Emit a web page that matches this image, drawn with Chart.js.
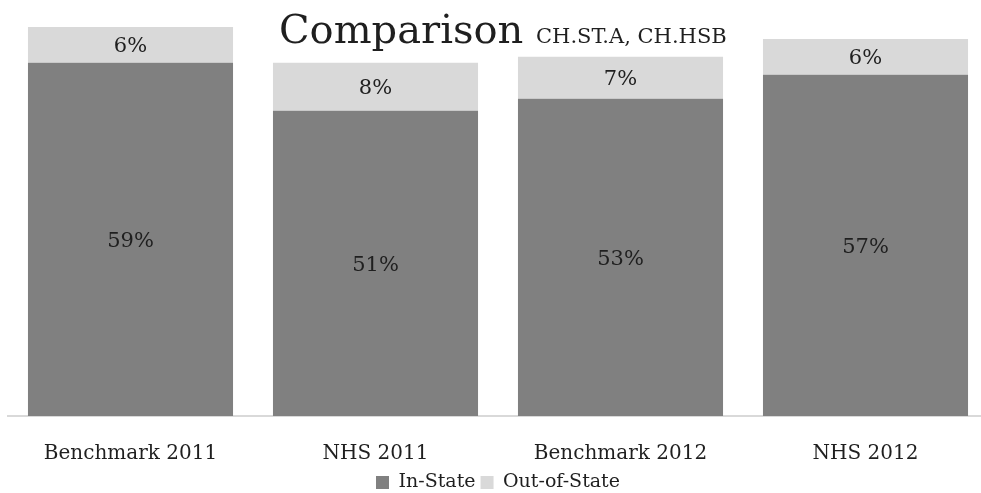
<!DOCTYPE html>
<html>
<head>
<meta charset="utf-8">
<script src="https://cdn.jsdelivr.net/npm/chart.js@4.4.1/dist/chart.umd.min.js"></script>
<style>
    html, body { margin: 0; padding: 0; background: #fff; overflow: hidden; }
    #wrap { position: relative; width: 988px; height: 502px; }
</style>
</head>
<body>
<div id="wrap"><canvas id="chart"></canvas></div>
<script>
// ── Data ──────────────────────────────────────────────────────────────────────
const categories = ['Benchmark 2011', 'NHS 2011', 'Benchmark 2012', 'NHS 2012'];
const inState = [59, 51, 53, 57];
const outOfState = [6, 8, 7, 6];
const seriesNames = ['In-State', 'Out-of-State'];

const FONT = "'DejaVu Serif', 'Liberation Serif', serif";
const TEXT = '#1f1f1f';

// title drawn over the plot, the way the original sits on top of the bars
const titlePlugin = {
    id: 'overTitle',
    afterDraw(chart) {
        const c = chart.ctx;
        c.save();
        c.fillStyle = TEXT;
        c.textBaseline = 'alphabetic';
        c.textAlign = 'left';
        c.font = `40px ${FONT}`;
        c.fillText('Comparison', 279, 43);
        c.font = `21px ${FONT}`;
        c.fillText('CH.ST.A, CH.HSB', 536, 43);
        c.restore();
    }
};

// percentage labels in the middle of every segment
const valueLabels = {
    id: 'valueLabels',
    afterDatasetsDraw(chart) {
        const c = chart.ctx;
        c.save();
        c.fillStyle = TEXT;
        c.font = `21px ${FONT}`;
        c.textAlign = 'center';
        c.textBaseline = 'middle';
        chart.data.datasets.forEach((ds, i) => {
            chart.getDatasetMeta(i).data.forEach((bar, j) => {
                const mid = (bar.y + bar.base) / 2;
                c.fillText(ds.data[j] + '%', bar.x, mid + 2);
            });
        });
        c.restore();
    }
};

new Chart(document.getElementById('chart'), {
    type: 'bar',
    data: {
        labels: categories,
        datasets: [
            { label: seriesNames[0], data: inState, backgroundColor: '#808080' },
            { label: seriesNames[1], data: outOfState, backgroundColor: '#d9d9d9' }
        ]
    },
    options: {
        responsive: true,
        maintainAspectRatio: false,
        animation: false,
        layout: { padding: { left: 8, right: 0, top: 0, bottom: 0 } },
        datasets: { bar: { categoryPercentage: 1, barPercentage: 0.837 } },
        scales: {
            x: {
                stacked: true,
                grid: { display: false },
                border: { color: '#d9d9d9', width: 2 },
                ticks: { color: TEXT, font: { family: FONT, size: 20 }, padding: 18, maxRotation: 0 },
                // legend sits close under the labels, as in the original
                afterFit: scale => { scale.height = 52; }
            },
            y: {
                stacked: true,
                display: false,
                min: 0,
                max: 69.5
            }
        },
        plugins: {
            legend: {
                position: 'bottom',
                labels: {
                    color: TEXT,
                    font: { family: FONT, size: 19 },
                    boxWidth: 13,
                    boxHeight: 13,
                    padding: 5
                }
            },
            tooltip: { enabled: false }
        }
    },
    plugins: [titlePlugin, valueLabels]
});
</script>
</body>
</html>
